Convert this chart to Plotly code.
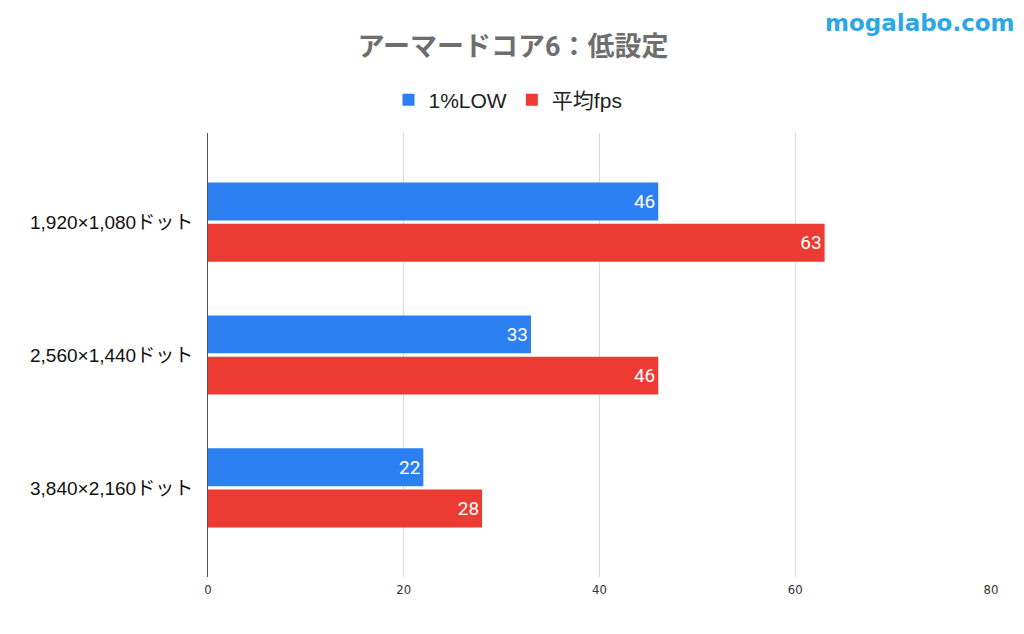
import plotly.graph_objects as go

categories = ["1,920×1,080ドット", "2,560×1,440ドット", "3,840×2,160ドット"]
low_1pct = [46, 33, 22]
avg_fps = [63, 46, 28]
series_names = ["1%LOW", "平均fps"]
x_ticks = [0, 20, 40, 60, 80]

FONT = "Roboto, 'Noto Sans CJK JP', sans-serif"
ARIAL = "'Liberation Sans', 'Noto Sans CJK JP', sans-serif"

fig = go.Figure()
fig.add_trace(go.Bar(
    y=categories, x=low_1pct, name=series_names[0], orientation="h",
    marker=dict(color="#2b7ff0", line=dict(width=0)),
    text=low_1pct, textposition="inside", insidetextanchor="end",
    textfont=dict(color="white", size=19, family=FONT),
))
fig.add_trace(go.Bar(
    y=categories, x=avg_fps, name=series_names[1], orientation="h",
    marker=dict(color="#ec3b33", line=dict(width=0)),
    text=avg_fps, textposition="inside", insidetextanchor="end",
    textfont=dict(color="white", size=19, family=FONT),
))

# page has an 8px body offset; compensate
OFF = 8
fig.update_layout(
    width=1024, height=634,
    paper_bgcolor="white", plot_bgcolor="white",
    margin=dict(l=208 - OFF, r=1024 - (991 - OFF), t=133 - OFF, b=634 - (577 - OFF)),
    barmode="group", bargap=0.38, bargroupgap=0.08,
    title=dict(text="<b>アーマードコア6：低設定</b>", x=(513 - OFF) / 1024, xanchor="center",
               y=1 - (47 - OFF) / 634, yanchor="middle", yref="container",
               font=dict(size=27, color="#6e6e6e", family=FONT)),
    legend=dict(orientation="h", xref="container", yref="container",
                x=(508 - OFF) / 1024, xanchor="center", y=1 - (100 - OFF) / 634, yanchor="middle",
                font=dict(size=21, color="#222222", family=ARIAL),
                itemwidth=30, traceorder="normal"),
    showlegend=True,
    font=dict(family=FONT),
)
fig.update_xaxes(range=[0, 80], tickvals=x_ticks, showgrid=True,
                 gridcolor="#d9d9d9", gridwidth=1, zeroline=False,
                 showline=False, ticks="outside", ticklen=0,
                 tickfont=dict(size=13, color="#333333", family="'DejaVu Sans Condensed', sans-serif"))
fig.update_yaxes(range=[2.67, -0.67], showgrid=False, zeroline=False,
                 showline=True, linecolor="#555555", linewidth=1,
                 ticks="", ticklabelstandoff=10,
                 tickfont=dict(size=19, color="#111111", family=ARIAL))

fig.add_annotation(text="<b>mogalabo.com</b>", xref="paper", yref="paper",
                   x=1, xanchor="right", y=1, yanchor="top",
                   xshift=26, yshift=133 - OFF, showarrow=False,
                   font=dict(size=23, color="#2aa8e6", family="'DejaVu Sans', sans-serif"))

fig.write_html("out.html")
